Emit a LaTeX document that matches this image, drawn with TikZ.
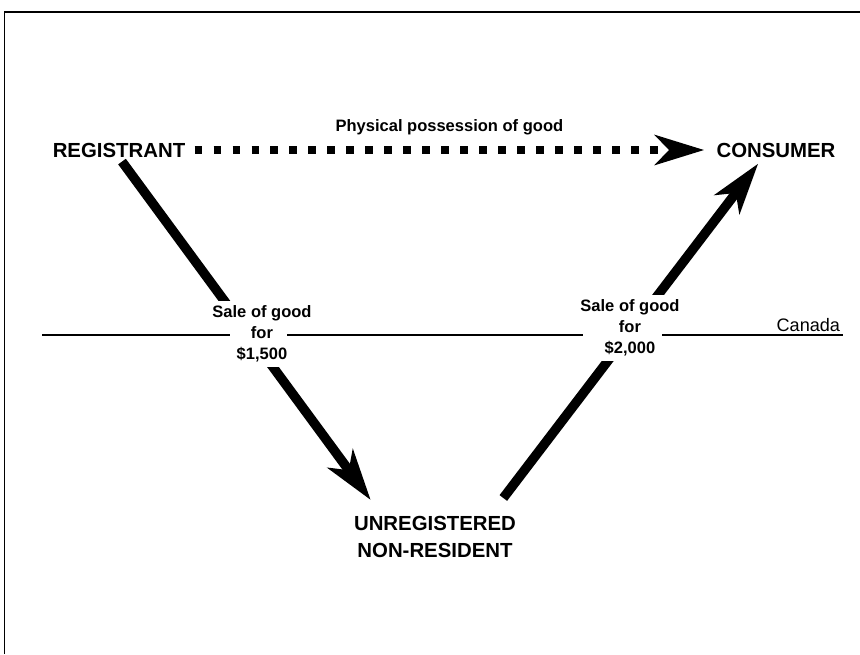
\documentclass[tikz,border=0pt]{standalone}
\usepackage{fontspec}
\setmainfont{Liberation Sans}
\usetikzlibrary{arrows.meta,calc}

\begin{document}
\begin{tikzpicture}[x=0.02cm, y=-0.02cm,
    party/.style={font=\fontsize{11.6}{15.3}\selectfont\bfseries, inner sep=0pt, align=center},
    tag/.style={font=\fontsize{9.4}{11.8}\selectfont\bfseries, align=center, fill=white, inner sep=3pt},
    sale/.style={line width=5.4pt, -{Stealth[length=29pt, width=17.6pt, inset=8pt]}},
    hold/.style={line width=4.5pt, dash pattern=on 4.5pt off 6.3pt, -{Stealth[length=28pt, width=17pt, inset=8pt]}}]

    \useasboundingbox (0,0) rectangle (860,654);
    \draw[line width=0.8pt] (4.3,654) -- (4.3,12) -- (860,12);

    \node[party] (reg) at (119,150) {REGISTRANT};
    \node[party] (con) at (776,150) {CONSUMER};
    \node[party] (unr) at (435,537) {UNREGISTERED\\NON-RESIDENT};

    \draw[hold] ($(reg.east)+(9,0)$) -- ($(con.west)+(-12,0)$)
        node[midway, above=3pt, font=\fontsize{9.4}{11}\selectfont\bfseries] (pos) {Physical possession of good};
    \draw[sale] ($(reg.south)+(3,4)$) -- ($(unr.north west)+(17,-16)$);
    \draw[sale] ($(unr.north east)+(-13,-18)$) -- ($(con.south west)+(42,6)$);

    \node[tag] (s1) at (262,334) {Sale of good\\for\\\$1,500};
    \node[tag] (s2) at (630,328) {Sale of good\\for\\\$2,000};

    \coordinate (bw) at (42,335);
    \coordinate (be) at (843,335);
    \draw[line width=0.6pt] (bw) -- (230,335) (287,335) -- (583,335) (662,335) -- (be);
    \node[font=\fontsize{10.3}{12}\selectfont, anchor=south east, inner sep=1.5pt] (can) at (be) {Canada};

\end{tikzpicture}
\end{document}
